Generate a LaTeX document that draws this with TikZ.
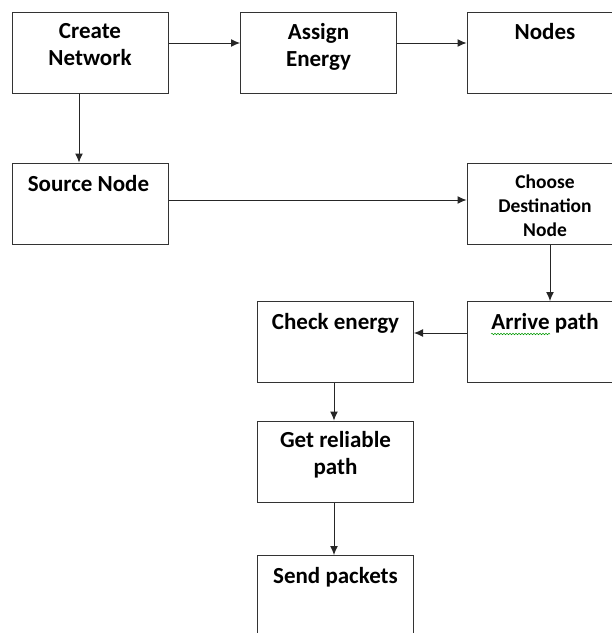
\documentclass[tikz,border=0pt]{standalone}
\usepackage{fontspec}
\setmainfont{Carlito}
\usepackage{tikz}
\usetikzlibrary{arrows}
\usetikzlibrary{arrows.meta}
\usetikzlibrary{decorations.pathmorphing}
\tikzset{>=latex}
\tikzstyle{stepbox} = [draw=black!80, line width=1pt, minimum width=156, minimum height=81, inner sep=0]
\tikzstyle{boxtext} = [draw=none, inner sep=0, align=center, anchor=north, font=\bfseries\fontsize{23}{27}\selectfont]
\tikzstyle{smalltext} = [boxtext, font=\bfseries\fontsize{19.5}{24}\selectfont]
\tikzstyle{flow} = [-{Latex[length=9,width=8]}, draw=black!85, line width=1pt]

\begin{document}
\begin{tikzpicture}[x=1pt, y=-1pt]
\clip (0,0) rectangle (612,633);
% boxes
\node [stepbox] (cn) at (90, 52.5) {};
\node [stepbox] (ae) at (318.5, 52.5) {};
\node [stepbox] (nd) at (545, 52.5) {};
\node [stepbox] (sn) at (90, 203.5) {};
\node [stepbox] (cd) at (545, 203.5) {};
\node [stepbox] (ce) at (335.5, 342) {};
\node [stepbox] (ap) at (545, 342) {};
\node [stepbox] (gr) at (335.5, 461.5) {};
\node [stepbox] (sp) at (335.5, 596) {};
% texts
\node [boxtext] (cnt) at ([yshift=-12]cn.north) {Create\\Network};
\node [boxtext] (aet) at ([yshift=-12]ae.north) {Assign\\Energy};
\node [boxtext] (ndt) at ([yshift=-12]nd.north) {Nodes};
\node [boxtext] (snt) at ([xshift=-1.5, yshift=-13]sn.north) {Source Node};
\node [smalltext] (cdt) at ([yshift=-12]cd.north) {Choose\\Destination\\Node};
\node [boxtext] (cet) at ([yshift=-12]ce.north) {Check energy};
\node [boxtext] (apt) at ([yshift=-12]ap.north) {Arrive path};
\node [boxtext] (grt) at ([yshift=-11]gr.north) {Get reliable\\path};
\node [boxtext] (spt) at ([yshift=-12]sp.north) {Send packets};
%\draw [green!60!black] (apt.south west) -- (apt.south);
\draw [green!60!black, line width=0.5, decorate, decoration={snake, amplitude=0.8, segment length=3}] (491, 334) -- (550, 334);
% connectors
\draw [flow] ([yshift=9.5]cn.east) to ([yshift=9.5]ae.west);
\draw [flow] ([yshift=9.5]ae.east) to ([yshift=9.5]nd.west);
\draw [flow] ([xshift=-11]cn.south) to ([xshift=-11]sn.north);
\draw [flow] ([yshift=3.5]sn.east) to ([yshift=3.5]cd.west);
\draw [flow] ([xshift=5]cd.south) to ([xshift=5]ap.north);
\draw [flow] ([yshift=9]ap.west) to ([yshift=9]ce.east);
\draw [flow] ([xshift=-1.5]ce.south) to ([xshift=-1.5]gr.north);
\draw [flow] ([xshift=-1.5]gr.south) to ([xshift=-1.5]sp.north);
\end{tikzpicture}
\end{document}
